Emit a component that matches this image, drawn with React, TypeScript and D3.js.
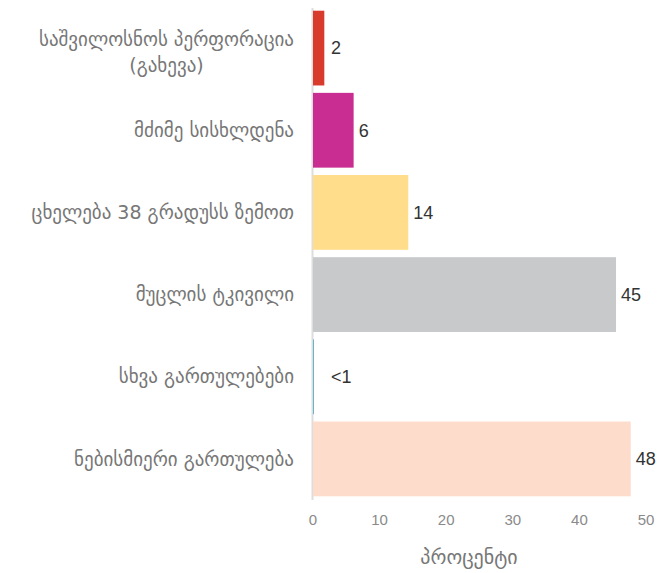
import React, { useEffect, useRef } from "react";
import * as d3 from "d3";

const categories: string[][] = [
  ["საშვილოსნოს პერფორაცია", "(გახევა)"],
  ["მძიმე სისხლდენა"],
  ["ცხელება 38 გრადუსს ზემოთ"],
  ["მუცლის ტკივილი"],
  ["სხვა გართულებები"],
  ["ნებისმიერი გართულება"],
];
const values: number[] = [1.7, 6.1, 14.3, 45.5, 0.15, 47.7];
const valueLabels: string[] = ["2", "6", "14", "45", "<1", "48"];
const colors: string[] = ["#d83b2b", "#c92d91", "#ffdd8a", "#c8c9cb", "#6ab4c8", "#fddccc"];
const xTicks: number[] = [0, 10, 20, 30, 40, 50];
const xTitle = "პროცენტი";

const W = 670;
const H = 573;

export default function App() {
  const ref = useRef<SVGSVGElement | null>(null);

  useEffect(() => {
    const svg = d3.select(ref.current);
    svg.selectAll("*").remove();

    const x = d3.scaleLinear().domain([0, 50]).range([313, 646]);
    const y = d3
      .scaleBand<number>()
      .domain(d3.range(categories.length))
      .range([7, 500])
      .paddingInner(0.09)
      .paddingOuter(0.045);

    // axis line
    svg
      .append("line")
      .attr("x1", x(0) - 0.5)
      .attr("x2", x(0) - 0.5)
      .attr("y1", 8)
      .attr("y2", 500)
      .attr("stroke", "#dddddd")
      .attr("stroke-width", 2);

    // bars
    svg
      .selectAll("rect.bar")
      .data(values)
      .join("rect")
      .attr("class", "bar")
      .attr("x", x(0))
      .attr("y", (_, i) => y(i)!)
      .attr("width", (d) => Math.max(1, x(d) - x(0)))
      .attr("height", y.bandwidth())
      .attr("fill", (_, i) => colors[i]);

    // value labels
    svg
      .selectAll("text.val")
      .data(values)
      .join("text")
      .attr("class", "val")
      .attr("x", (d) => Math.max(x(d) + 5, x(0) + 18))
      .attr("y", (_, i) => y(i)! + y.bandwidth() / 2)
      .attr("dy", "0.35em")
      .attr("font-family", "'Liberation Sans', Arial, sans-serif")
      .attr("font-size", 18)
      .attr("fill", "#333333")
      .text((_, i) => valueLabels[i]);

    // category labels
    const labelX = 294;
    const lineH = 26;
    categories.forEach((lines, i) => {
      const cy = y(i)! + y.bandwidth() / 2 + (lines.length > 1 ? 4 : 0);
      const g = svg.append("g");
      const texts = lines.map((ln, j) =>
        g
          .append("text")
          .attr("y", cy + (j - (lines.length - 1) / 2) * lineH)
          .attr("dy", "0.35em")
          .attr("font-family", "'DejaVu Sans', sans-serif")
          .attr("font-size", 19)
          .attr("fill", "#777777")
          .attr("text-anchor", "middle")
          .text(ln)
      );
      const widths = texts.map((t) => (t.node() as SVGTextElement).getComputedTextLength());
      const maxW = d3.max(widths) || 0;
      texts.forEach((t) => t.attr("x", labelX - maxW / 2));
    });

    // ticks
    svg
      .selectAll("text.tick")
      .data(xTicks)
      .join("text")
      .attr("class", "tick")
      .attr("x", (d) => x(d))
      .attr("y", 520)
      .attr("dy", "0.35em")
      .attr("text-anchor", "middle")
      .attr("font-family", "'Liberation Sans', Arial, sans-serif")
      .attr("font-size", 15)
      .attr("fill", "#8a8a8a")
      .text((d) => String(d));

    // axis title
    svg
      .append("text")
      .attr("x", 469)
      .attr("y", 557)
      .attr("dy", "0.35em")
      .attr("text-anchor", "middle")
      .attr("font-family", "'DejaVu Sans', sans-serif")
      .attr("font-size", 20)
      .attr("fill", "#777777")
      .text(xTitle);
  }, []);

  return (
    <svg
      ref={ref}
      width={W}
      height={H}
      style={{ position: "absolute", left: 0, top: 0, background: "#ffffff" }}
    />
  );
}
